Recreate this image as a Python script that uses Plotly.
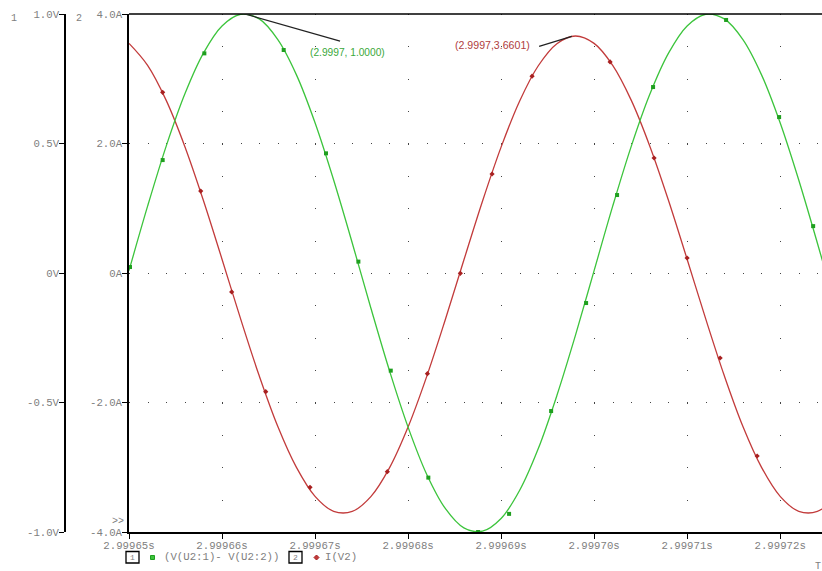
import plotly.graph_objects as go

# ---------------- data ----------------
T0 = 2.99965  # s, left edge of time axis
time_us = [0, 2, 4, 6, 8, 10, 12, 14, 16, 18, 20, 22, 24, 26, 28, 30, 32, 34, 36, 38,
           40, 42, 44, 46, 48, 50, 52, 54, 56, 58, 60, 62, 64, 66, 68, 70, 72, 74, 76]
v_diff = [0.009, 0.258, 0.490, 0.691, 0.849, 0.954, 0.999, 0.981, 0.901, 0.765,
          0.580, 0.359, 0.116, -0.135, -0.377, -0.595, -0.777, -0.909, -0.984, -0.997,
          -0.948, -0.839, -0.678, -0.473, -0.240, 0.009, 0.258, 0.490, 0.691, 0.849,
          0.954, 0.999, 0.981, 0.901, 0.765, 0.580, 0.359, 0.116, -0.135]
i_v2 = [3.546, 3.207, 2.666, 1.955, 1.120, 0.213, -0.709, -1.588, -2.371, -3.002,
        -3.449, -3.680, -3.682, -3.454, -3.010, -2.379, -1.600, -0.722, 0.200, 1.108,
        1.944, 2.657, 3.201, 3.542, 3.660, 3.546, 3.207, 2.666, 1.955, 1.120,
        0.213, -0.709, -1.588, -2.371, -3.002, -3.449, -3.680, -3.682, -3.454]

# marker sample points
v_mark_us = [0.11, 3.62, 8.10, 16.63, 21.18, 24.66, 28.14, 32.18, 37.53, 40.86,
             45.38, 49.14, 52.47, 56.34, 64.19, 69.89, 73.55]
v_mark = [0.023, 0.436, 0.848, 0.861, 0.462, 0.044, -0.377, -0.790, -1.000, -0.930,
          -0.533, -0.116, 0.301, 0.718, 0.977, 0.602, 0.181]
i_mark_us = [3.62, 7.71, 11.04, 14.70, 19.46, 27.77, 32.08, 35.62, 39.03, 43.33,
             51.72, 56.45, 60.0, 63.55, 67.53]
i_mark = [2.79, 1.266, -0.293, -1.833, -3.310, -3.069, -1.555, -0.005, 1.529, 3.04,
          3.26, 1.776, 0.232, -1.313, -2.826]

x_ticks = [2.99965, 2.99966, 2.99967, 2.99968, 2.99969, 2.99970, 2.99971, 2.99972]
x_ticklabels = ["2.99965s", "2.99966s", "2.99967s", "2.99968s", "2.99969s",
                "2.99970s", "2.99971s", "2.99972s"]
a_ticks = [-4, -2, 0, 2, 4]
a_ticklabels = ["-4.0A", "-2.0A", "0A", "2.0A", "4.0A"]
v_ticks = [-1, -0.5, 0, 0.5, 1]
v_ticklabels = ["-1.0V", "-0.5V", "0V", "0.5V", "1.0V"]

# ---------------- figure ----------------
W, H = 822, 571
ML, MR, MT, MB = 20, 0, 14, 39
PW, PH = W - ML - MR, H - MT - MB


def px(x):
    return (x - ML) / PW


def py(y):
    return (H - MB - y) / PH


GREEN = "#3cc43c"
GREEN_M = "#1f9f1f"
RED = "#c23b3b"
RED_M = "#a82020"
GRAY = "#808080"
MONO = "Liberation Mono, Courier New, monospace"

t = [T0 + u * 1e-6 for u in time_us]
tv = [T0 + u * 1e-6 for u in v_mark_us]
ti = [T0 + u * 1e-6 for u in i_mark_us]

fig = go.Figure()
fig.add_trace(go.Scatter(x=t, y=v_diff, mode="lines", yaxis="y2",
                         line=dict(color=GREEN, width=1.3, shape="spline"),
                         hoverinfo="skip"))
fig.add_trace(go.Scatter(x=t, y=i_v2, mode="lines", yaxis="y",
                         line=dict(color=RED, width=1.3, shape="spline"),
                         hoverinfo="skip"))
fig.add_trace(go.Scatter(x=tv, y=v_mark, mode="markers", yaxis="y2",
                         marker=dict(symbol="square", size=4, color=GREEN_M),
                         hoverinfo="skip"))
fig.add_trace(go.Scatter(x=ti, y=i_mark, mode="markers", yaxis="y",
                         marker=dict(symbol="diamond", size=4, color=RED_M),
                         hoverinfo="skip"))

tickfont = dict(family=MONO, size=10.7, color=GRAY)

fig.update_layout(
    width=W, height=H,
    margin=dict(l=ML, r=MR, t=MT, b=MB, autoexpand=False),
    paper_bgcolor="white", plot_bgcolor="white",
    showlegend=False,
    xaxis=dict(domain=[px(129), 1], range=[T0, T0 + 74.5e-6], automargin=False,
               tickvals=x_ticks, ticktext=x_ticklabels, tickfont=tickfont,
               ticks="outside", ticklen=5, tickcolor="black", tickwidth=1.3,
               ticklabelstandoff=-3,
               showline=True, linecolor="black", linewidth=1.6,
               showgrid=True, gridcolor="#444444", gridwidth=1, griddash="1px,31.375px",
               zeroline=False, fixedrange=True),
    yaxis=dict(range=[-4, 4], automargin=False,
               tickvals=a_ticks, ticktext=a_ticklabels, tickfont=tickfont,
               ticks="outside", ticklen=5, tickcolor="black", tickwidth=1.3,
               ticklabelstandoff=-2,
               showline=True, linecolor="black", linewidth=1.6,
               showgrid=True, gridcolor="#444444", gridwidth=1, griddash="1px,17.6px",
               zeroline=False, fixedrange=True),
    yaxis2=dict(range=[-1, 1], overlaying="y", anchor="free", position=px(65), side="left",
                automargin=False,
                tickvals=v_ticks, ticktext=v_ticklabels, tickfont=tickfont,
                ticks="outside", ticklen=5, tickcolor="black", tickwidth=1.3,
                ticklabelstandoff=-2,
                showline=True, linecolor="black", linewidth=1.6,
                showgrid=False, zeroline=False, fixedrange=True),
)

# top border of the plot
fig.add_shape(type="line", xref="x domain", yref="y domain", x0=0, x1=1, y0=1, y1=1,
              line=dict(color="black", width=1.6))

# cursor annotations
fig.add_shape(type="line", xref="x", yref="y", x0=T0 + 12.47e-6, y0=4.0,
              x1=T0 + 22.69e-6, y1=3.58, line=dict(color="#222222", width=1.2))
fig.add_shape(type="line", xref="x", yref="y", x0=T0 + 44.09e-6, y0=3.50,
              x1=T0 + 47.6e-6, y1=3.655, line=dict(color="#222222", width=1.2))


def label(txt, x, y, font, xanchor="center"):
    fig.add_annotation(x=px(x), y=py(y), xref="paper", yref="paper", text=txt,
                       xanchor=xanchor, yanchor="middle", showarrow=False, font=font)


label("(2.9997, 1.0000)", 347, 53,
      dict(family="Liberation Sans, Arial", size=10.2, color="#3aa83a"))
label("(2.9997,3.6601)", 492, 45,
      dict(family="Liberation Sans, Arial", size=10.6, color="#b04040"))

# axis numbers, markers ">>", "T"
for txt, x, y in [("1", 14, 19), ("2", 79, 19), (">>", 118, 521), ("T", 818, 566)]:
    label(txt, x, y, dict(family=MONO, size=10, color=GRAY))

# legend
for (x0, x1, lab) in [(126, 139, "1"), (289, 302, "2")]:
    fig.add_shape(type="rect", xref="paper", yref="paper", x0=px(x0), x1=px(x1),
                  y0=py(563), y1=py(551.5), line=dict(color="black", width=1.3))
    label(lab, (x0 + x1) / 2, 557, dict(family=MONO, size=8, color=GRAY))
fig.add_shape(type="rect", xref="paper", yref="paper", x0=px(150.5), x1=px(154.5),
              y0=py(559.5), y1=py(555.5), line=dict(color=GREEN_M, width=1), fillcolor=GREEN)
fig.add_shape(type="path", xref="paper", yref="paper",
              path=f"M{px(316.5)},{py(555)} L{px(319)},{py(557.5)} L{px(316.5)},{py(560)} L{px(314)},{py(557.5)} Z",
              line=dict(color=RED_M, width=1), fillcolor=RED)
label("(V(U2:1)- V(U2:2))", 162, 557, tickfont, xanchor="left")
label("I(V2)", 323, 557, tickfont, xanchor="left")

fig.write_html("out.html", config={"displayModeBar": False},
               post_script="document.body.style.margin='0';document.body.style.overflow='hidden';")
